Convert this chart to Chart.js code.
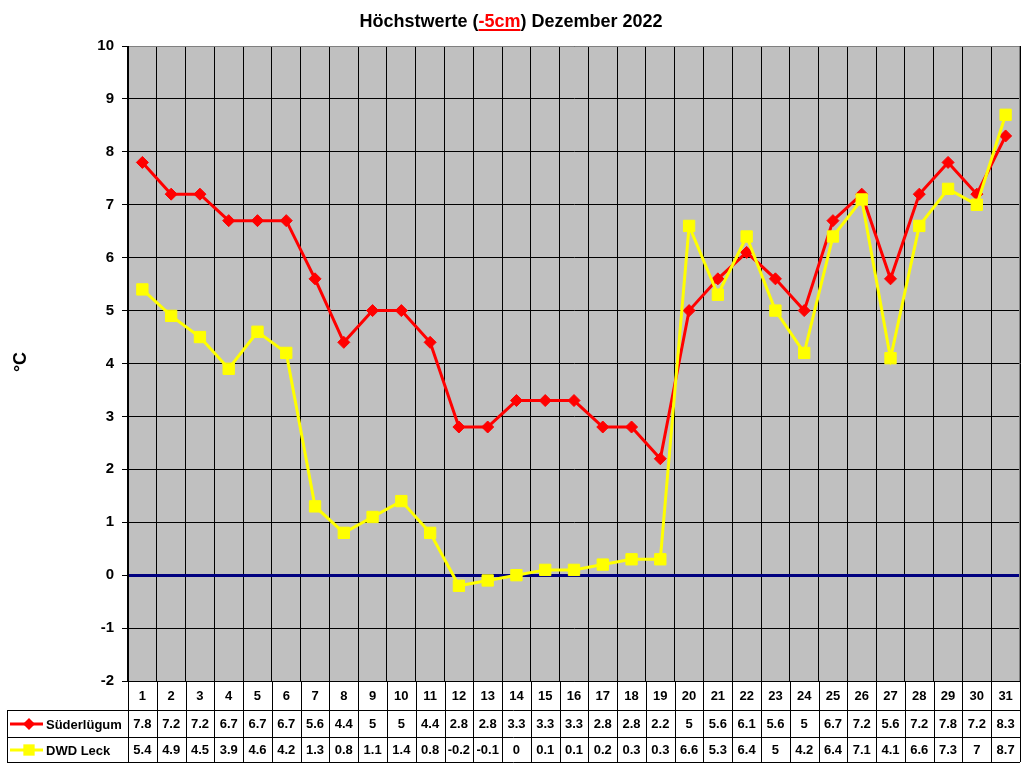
<!DOCTYPE html>
<html>
<head>
<meta charset="utf-8">
<script src="https://cdn.jsdelivr.net/npm/chart.js@4"></script>
<style>
  html, body { margin: 0; padding: 0; background: #fff; }
  #wrap { width: 1024px; height: 768px; }
</style>
</head>
<body>
<div id="wrap"><canvas id="chart" width="1024" height="768"></canvas></div>
<script>
// Daten
const days = ['1','2','3','4','5','6','7','8','9','10','11','12','13','14','15','16',
  '17','18','19','20','21','22','23','24','25','26','27','28','29','30','31'];
const suederluegum = [7.8, 7.2, 7.2, 6.7, 6.7, 6.7, 5.6, 4.4, 5, 5, 4.4, 2.8, 2.8, 3.3, 3.3, 3.3,
  2.8, 2.8, 2.2, 5, 5.6, 6.1, 5.6, 5, 6.7, 7.2, 5.6, 7.2, 7.8, 7.2, 8.3];
const dwdLeck = [5.4, 4.9, 4.5, 3.9, 4.6, 4.2, 1.3, 0.8, 1.1, 1.4, 0.8, -0.2, -0.1, 0, 0.1, 0.1,
  0.2, 0.3, 0.3, 6.6, 5.3, 6.4, 5, 4.2, 6.4, 7.1, 4.1, 6.6, 7.3, 7, 8.7];
const seriesNames = ['Süderlügum', 'DWD Leck'];
const yTicks = [-2, -1, 0, 1, 2, 3, 4, 5, 6, 7, 8, 9, 10];
const titleParts = [
  { text: 'Höchstwerte (', color: '#000' },
  { text: '-5cm', color: '#FF0000', underline: true },
  { text: ') Dezember 2022', color: '#000' }
];
const yTitle = '°C';

const FONT = '"Liberation Sans", Arial, sans-serif';

// Hintergrund des Plotbereichs
const plotBackground = {
  id: 'plotBackground',
  beforeDraw(chart) {
    const a = chart.chartArea, ctx = chart.ctx;
    ctx.save();
    ctx.fillStyle = '#C0C0C0';
    ctx.fillRect(a.left, a.top, a.right - a.left, a.bottom - a.top);
    ctx.restore();
  },
  beforeDatasetsDraw(chart) {
    // grauer Rahmen oben und rechts
    const a = chart.chartArea, ctx = chart.ctx;
    ctx.save();
    ctx.strokeStyle = '#808080';
    ctx.lineWidth = 1;
    ctx.beginPath();
    ctx.moveTo(a.left + 1, Math.round(a.top) + 0.5);
    ctx.lineTo(Math.round(a.right) - 0.5, Math.round(a.top) + 0.5);
    ctx.lineTo(Math.round(a.right) - 0.5, a.bottom);
    ctx.stroke();
    ctx.restore();
  }
};

// Titel, Achsentitel und Datentabelle
const extras = {
  id: 'extras',
  afterDraw(chart) {
    const ctx = chart.ctx, x = chart.scales.x, a = chart.chartArea;
    ctx.save();

    // Titel mit rotem, unterstrichenem Teil
    ctx.font = 'bold 18px ' + FONT;
    ctx.textBaseline = 'alphabetic';
    let total = 0;
    titleParts.forEach(p => total += ctx.measureText(p.text).width);
    let tx = 511 - total / 2;
    titleParts.forEach(p => {
      const w = ctx.measureText(p.text).width;
      ctx.fillStyle = p.color;
      ctx.textAlign = 'left';
      ctx.fillText(p.text, tx, 27);
      if (p.underline) {
        ctx.fillRect(tx, 29, w, 2);
      }
      tx += w;
    });

    // Y-Achsentitel
    ctx.save();
    ctx.translate(21, 362);
    ctx.rotate(-Math.PI / 2);
    ctx.font = 'bold 18px ' + FONT;
    ctx.fillStyle = '#000';
    ctx.textAlign = 'center';
    ctx.textBaseline = 'middle';
    ctx.fillText(yTitle, 0, 0);
    ctx.restore();

    // Datentabelle
    const half = (x.getPixelForValue(1) - x.getPixelForValue(0)) / 2;
    const top = a.bottom, r1 = 710, r2 = 737, bottom = 762, leftEdge = 7;
    ctx.strokeStyle = '#000';
    ctx.lineWidth = 1;
    ctx.beginPath();
    for (let i = 0; i <= days.length; i++) {
      const px = Math.round(x.getPixelForValue(0) - half + i * half * 2) + 0.5;
      ctx.moveTo(px, top);
      ctx.lineTo(px, bottom);
    }
    [r1, r2, bottom].forEach(yy => {
      ctx.moveTo(leftEdge, yy + 0.5);
      ctx.lineTo(a.right, yy + 0.5);
    });
    ctx.moveTo(leftEdge + 0.5, r1);
    ctx.lineTo(leftEdge + 0.5, bottom);
    ctx.stroke();

    ctx.fillStyle = '#000';
    ctx.textAlign = 'center';
    ctx.textBaseline = 'middle';
    ctx.font = 'bold 13px ' + FONT;
    days.forEach((d, i) => {
      const cx = x.getPixelForValue(i);
      ctx.fillText(d, cx, 696);
      ctx.fillText(String(suederluegum[i]), cx, 724);
      ctx.fillText(String(dwdLeck[i]), cx, 750);
    });

    // Legende in der Tabelle
    const rows = [
      { y: 724, color: '#FF0000', style: 'rectRot', radius: 6 },
      { y: 750, color: '#FFFF00', style: 'rect', radius: 8 }
    ];
    rows.forEach((row, k) => {
      ctx.strokeStyle = row.color;
      ctx.lineWidth = 3;
      ctx.beginPath();
      ctx.moveTo(10, row.y);
      ctx.lineTo(43, row.y);
      ctx.stroke();
      ctx.fillStyle = row.color;
      Chart.helpers.drawPoint(ctx, { pointStyle: row.style, radius: row.radius, borderWidth: 0 }, 29, row.y);
      ctx.fillStyle = '#000';
      ctx.textAlign = 'left';
      ctx.font = 'bold 13px ' + FONT;
      ctx.fillText(seriesNames[k], 46, row.y + 1);
    });

    ctx.restore();
  }
};

new Chart(document.getElementById('chart'), {
  type: 'line',
  data: {
    labels: days,
    datasets: [{
      label: seriesNames[0],
      data: suederluegum,
      borderColor: '#FF0000',
      backgroundColor: '#FF0000',
      borderWidth: 3,
      pointStyle: 'rectRot',
      pointRadius: 6,
      pointBorderWidth: 1,
      tension: 0,
      order: 1
    }, {
      label: seriesNames[1],
      data: dwdLeck,
      borderColor: '#FFFF00',
      backgroundColor: '#FFFF00',
      borderWidth: 3,
      pointStyle: 'rect',
      pointRadius: 8,
      pointBorderWidth: 1,
      tension: 0,
      order: 0
    }]
  },
  options: {
    responsive: false,
    animation: false,
    devicePixelRatio: 1,
    layout: { autoPadding: false, padding: { top: 46, right: 4, left: 0, bottom: 0 } },
    plugins: {
      legend: { display: false },
      title: { display: false },
      tooltip: { enabled: false }
    },
    scales: {
      x: {
        offset: true,
        grid: { offset: true, color: '#000', lineWidth: 1, drawTicks: false },
        border: { color: '#000' },
        ticks: { display: false },
        afterFit(scale) { scale.height = 87; }
      },
      y: {
        min: -2,
        max: 10,
        afterBuildTicks(scale) { scale.ticks = yTicks.map(v => ({ value: v })); },
        grid: {
          color: c => (c.tick && c.tick.value === 0) ? '#000080' : '#000',
          lineWidth: c => (c.tick && c.tick.value === 0) ? 3 : 1,
          tickColor: '#000',
          tickWidth: 1,
          tickLength: 6
        },
        border: { color: '#000' },
        ticks: {
          color: '#000',
          padding: 8,
          font: { family: FONT, size: 15, weight: 'bold' }
        },
        afterFit(scale) { scale.width = 128; }
      }
    }
  },
  plugins: [plotBackground, extras]
});
</script>
</body>
</html>
